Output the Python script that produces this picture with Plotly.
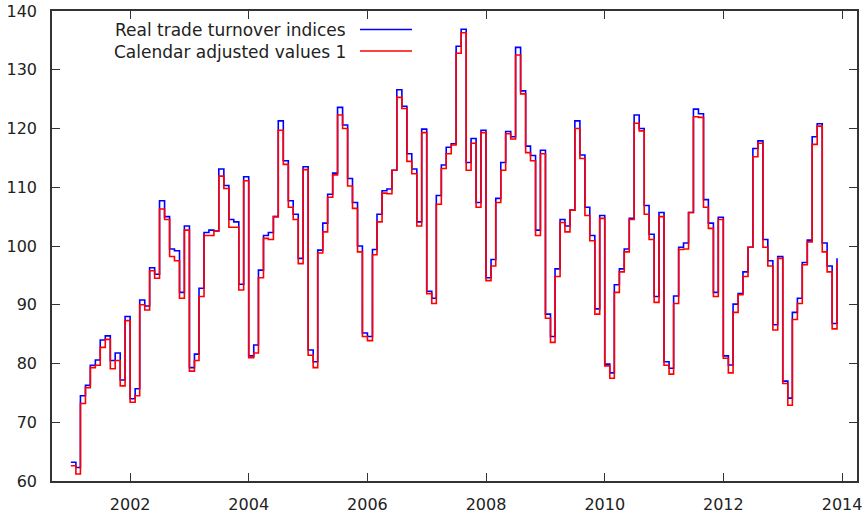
import pandas as pd
import plotly.graph_objects as go

months = pd.date_range("2001-01-01", periods=156, freq="MS")

real_indices = [
    63.2, 62.3, 74.5, 76.3, 79.7, 80.6, 84.0, 84.7, 80.5, 81.8, 77.2, 88.0,
    74.0, 75.7, 90.8, 89.8, 96.3, 95.2, 107.7, 105.0, 99.5, 99.2, 92.1, 103.4,
    79.3, 81.6, 92.8, 102.3, 102.7, 102.55, 113.1, 110.3, 104.5, 104.1, 93.5, 111.8,
    81.3, 83.15, 95.9, 101.8, 102.3, 105.0, 121.3, 114.5, 107.7, 105.4, 97.9, 113.5,
    82.3, 80.3, 99.3, 103.9, 108.8, 112.4, 123.6, 120.6, 111.5, 107.4, 100.0, 85.2,
    84.6, 99.4, 105.4, 109.4, 109.7, 112.9, 126.6, 123.8, 115.7, 113.1, 104.1, 119.9,
    92.3, 91.1, 108.6, 113.8, 116.8, 117.4, 134.0, 136.9, 114.2, 118.3, 107.4, 119.7,
    94.6, 97.7, 108.1, 114.2, 119.5, 118.6, 133.8, 126.4, 117.0, 115.4, 102.7, 116.3,
    88.4, 84.6, 96.1, 104.5, 103.4, 106.1, 121.3, 115.5, 106.6, 101.8, 89.3, 105.2,
    79.9, 78.4, 93.4, 96.1, 99.5, 104.7, 122.3, 120.0, 106.9, 102.0, 91.4, 105.7,
    80.3, 79.2, 91.5, 99.8, 100.5, 105.7, 123.3, 122.5, 107.9, 103.9, 92.1, 104.9,
    81.3, 79.75, 90.1, 91.9, 95.6, 99.8, 116.6, 117.9, 101.1, 97.5, 86.6, 98.2,
    77.0, 74.1, 88.7, 91.1, 97.2, 101.0, 118.6, 120.8, 100.5, 96.6, 86.8, 97.9,
]

calendar_adjusted = [
    62.6, 61.2, 73.2, 75.9, 79.3, 79.7, 82.75, 84.1, 79.1, 80.5, 76.2, 87.3,
    73.4, 74.5, 90.0, 89.1, 95.8, 94.5, 106.3, 104.5, 98.2, 97.5, 91.1, 102.7,
    78.7, 80.5, 91.4, 101.8, 101.8, 102.55, 111.9, 109.8, 103.2, 103.2, 92.5, 111.1,
    81.0, 81.8, 94.6, 101.3, 101.1, 105.0, 119.7, 113.9, 106.6, 104.5, 97.0, 113.0,
    81.4, 79.3, 98.8, 102.4, 108.3, 112.1, 122.3, 120.0, 110.2, 106.4, 99.0, 84.6,
    83.9, 98.5, 104.1, 109.0, 108.9, 112.9, 125.3, 123.4, 114.4, 112.3, 103.4, 119.3,
    91.9, 90.2, 107.1, 113.2, 115.7, 117.2, 132.8, 136.3, 112.9, 117.5, 106.6, 119.3,
    94.1, 96.6, 107.4, 112.9, 119.1, 118.2, 132.5, 125.9, 115.9, 114.5, 101.8, 115.7,
    87.7, 83.6, 94.8, 104.0, 102.4, 106.1, 120.0, 114.9, 105.2, 100.9, 88.4, 104.7,
    79.6, 77.5, 92.1, 95.6, 99.0, 104.5, 120.9, 119.6, 105.4, 101.1, 90.4, 105.0,
    79.7, 78.2, 90.2, 99.4, 99.5, 105.7, 122.0, 121.9, 106.6, 103.0, 91.4, 104.5,
    80.9, 78.4, 88.7, 91.7, 94.8, 99.8, 115.2, 117.5, 99.8, 96.6, 85.7, 97.9,
    76.6, 72.9, 87.5, 90.2, 96.8, 100.7, 117.3, 120.4, 99.0, 95.6, 85.9, 97.2,
]

series_names = ["Real trade turnover indices", "Calendar adjusted values 1"]
series_colors = ["#0000ff", "#ff0000"]
x_tick_years = [2002, 2004, 2006, 2008, 2010, 2012, 2014]

FONT = "DejaVu Sans"
FS = 16
TXT = "#222222"
FRAME = "#333333"

fig = go.Figure()
for name, vals, col in zip(series_names, [real_indices, calendar_adjusted], series_colors):
    fig.add_trace(go.Scatter(
        x=months, y=vals, mode="lines", name=name,
        line=dict(color=col, width=1.6, shape="hv"),
        showlegend=False,
    ))

# gnuplot-style key: text on the left, sample line on the right
key_y = [0.9606, 0.9149]
for name, col, yy in zip(series_names, series_colors, key_y):
    fig.add_annotation(
        xref="paper", yref="paper", x=0.3677, y=yy - 0.002, text=name,
        showarrow=False, xanchor="right", yanchor="middle",
        font=dict(family=FONT, size=17, color=TXT),
    )
    fig.add_shape(
        type="line", xref="paper", yref="paper",
        x0=0.3826, x1=0.4472, y0=yy, y1=yy,
        line=dict(color=col, width=1.6),
    )

fig.update_layout(
    width=867, height=514, autosize=False,
    margin=dict(l=52, r=10, t=11, b=33, autoexpand=False),
    paper_bgcolor="white", plot_bgcolor="white",
    font=dict(family=FONT, size=FS, color=TXT),
)
fig.update_xaxes(
    type="date", automargin=False,
    range=["2000-09-07", "2014-04-03"],
    tickvals=[f"{y}-01-01" for y in x_tick_years],
    ticktext=[str(y) for y in x_tick_years],
    ticks="inside", ticklen=8, tickwidth=1.2, tickcolor=FRAME,
    showline=True, linecolor=FRAME, linewidth=1.5, mirror="ticks",
    showgrid=False, zeroline=False,
    ticklabelstandoff=8,
)
fig.update_yaxes(
    range=[60, 140], dtick=10, tick0=60, automargin=False,
    ticks="inside", ticklen=8, tickwidth=1.2, tickcolor=FRAME,
    showline=True, linecolor=FRAME, linewidth=1.5, mirror="ticks",
    showgrid=False, zeroline=False,
    ticklabelstandoff=10,
)

fig.write_html(
    "out.html",
    config={"displayModeBar": False},
    post_script="document.body.style.margin='0';document.body.style.overflow='hidden';",
)
